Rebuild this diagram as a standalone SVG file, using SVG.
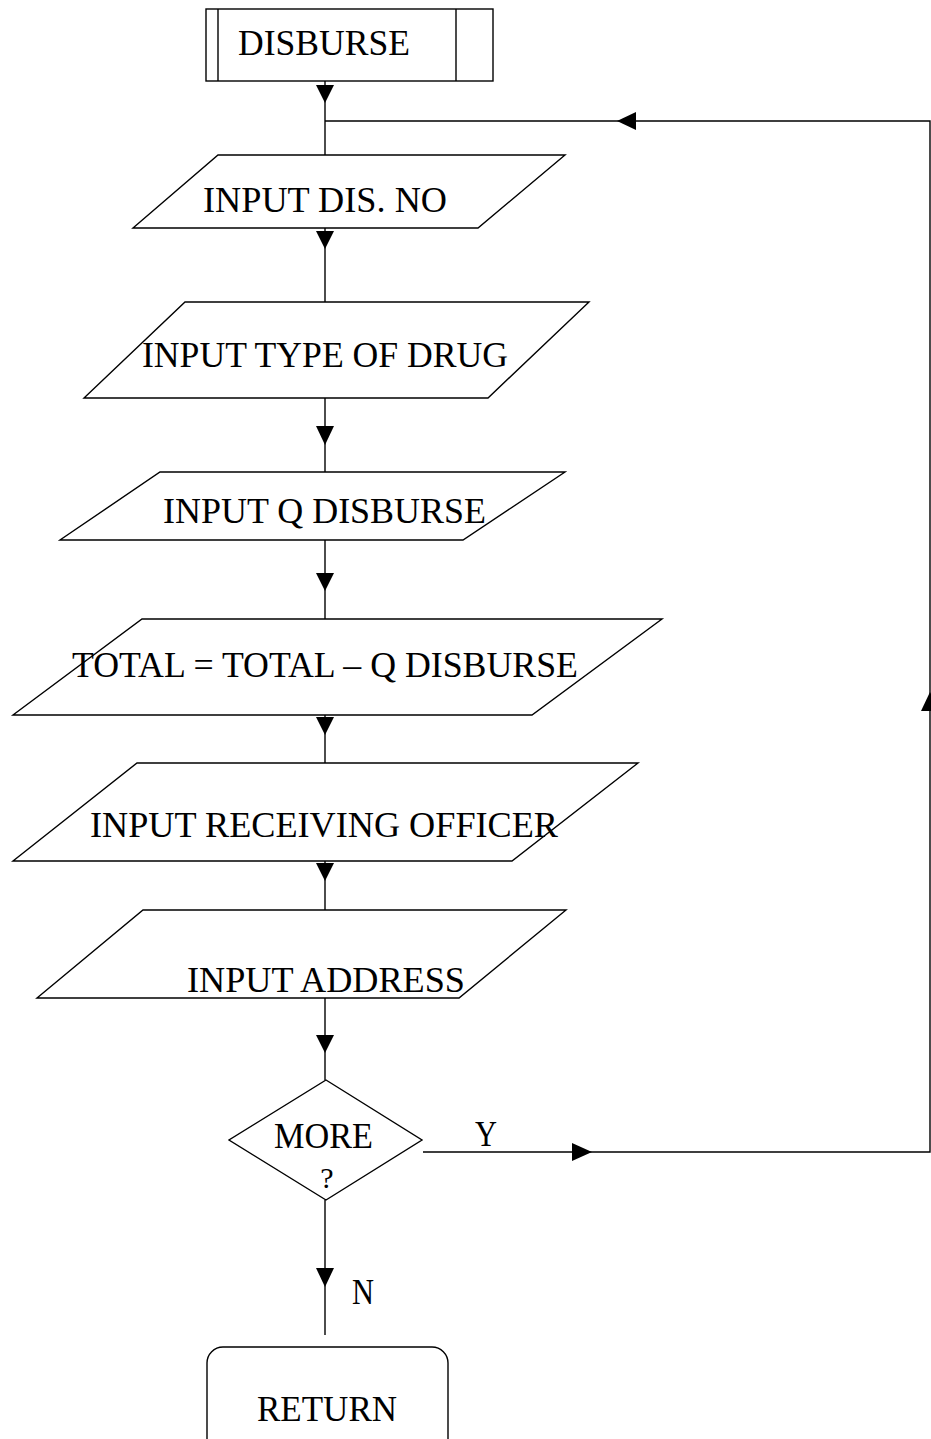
<svg xmlns="http://www.w3.org/2000/svg" width="931" height="1439" viewBox="0 0 931 1439">
<style>
.s{fill:none;stroke:#000;stroke-width:1.4}
.n{fill:#fff;stroke:#000;stroke-width:1.4}
.a{fill:#000;stroke:none}
text{font-family:"Liberation Serif","Times New Roman",serif;font-size:35px;fill:#000}
</style>
<rect width="931" height="1439" fill="#fff"/>
<g id="connectors">
<path class="s" d="M325 81V155"/>
<path class="s" d="M325 121H930V1152H423"/>
<path class="s" d="M325 228V302"/>
<path class="s" d="M325 398V472"/>
<path class="s" d="M325 540V619"/>
<path class="s" d="M325 715V763"/>
<path class="s" d="M325 861V910"/>
<path class="s" d="M325 998V1080"/>
<path class="s" d="M325 1200V1335"/>
<polygon class="a" points="316,85 334,85 325,103"/>
<polygon class="a" points="316,231 334,231 325,249"/>
<polygon class="a" points="316,426 334,426 325,445"/>
<polygon class="a" points="316,573 334,573 325,591"/>
<polygon class="a" points="316,717 334,717 325,735"/>
<polygon class="a" points="316,863 334,863 325,881"/>
<polygon class="a" points="316,1035 334,1035 325,1053"/>
<polygon class="a" points="316,1268 334,1268 325,1287"/>
<polygon class="a" points="636,112 636,130 617,121"/>
<polygon class="a" points="921,711 939,711 930,692"/>
<polygon class="a" points="572,1143 572,1161 592,1152"/>
<text x="475" y="1146" textLength="22" lengthAdjust="spacingAndGlyphs">Y</text>
<text x="352" y="1304" textLength="22" lengthAdjust="spacingAndGlyphs">N</text>
</g>
<g id="disburse">
<rect class="n" x="206" y="9" width="287" height="72"/>
<path class="s" d="M218 9V81M456 9V81"/>
<text x="238" y="55" textLength="172" lengthAdjust="spacingAndGlyphs">DISBURSE</text>
</g>
<g id="input-dis-no">
<polygon class="n" points="218,155 565,155 478,228 133,228"/>
<text x="203" y="212" textLength="244" lengthAdjust="spacingAndGlyphs">INPUT DIS. NO</text>
</g>
<g id="input-type-of-drug">
<polygon class="n" points="185,302 589,302 488,398 84,398"/>
<text x="142" y="367" textLength="366" lengthAdjust="spacingAndGlyphs">INPUT TYPE OF DRUG</text>
</g>
<g id="input-q-disburse">
<polygon class="n" points="160,472 565,472 463,540 60,540"/>
<text x="163" y="523" textLength="323" lengthAdjust="spacingAndGlyphs">INPUT Q DISBURSE</text>
</g>
<g id="total">
<polygon class="n" points="142,619 662,619 532,715 13,715"/>
<text x="72" y="677" textLength="506" lengthAdjust="spacingAndGlyphs">TOTAL = TOTAL – Q DISBURSE</text>
</g>
<g id="input-receiving-officer">
<polygon class="n" points="137,763 638,763 512,861 13,861"/>
<text x="90" y="837" textLength="468" lengthAdjust="spacingAndGlyphs">INPUT RECEIVING OFFICER</text>
</g>
<g id="input-address">
<polygon class="n" points="143,910 566,910 459,998 37,998"/>
<text x="187" y="992" textLength="278" lengthAdjust="spacingAndGlyphs">INPUT ADDRESS</text>
</g>
<g id="more">
<polygon class="n" points="326,1080 422,1140 326,1200 229,1140"/>
<text x="274" y="1148" textLength="99" lengthAdjust="spacingAndGlyphs">MORE</text>
<text x="327" y="1188" text-anchor="middle" style="font-size:30px">?</text>
</g>
<g id="return">
<rect class="n" x="207" y="1347" width="241" height="110" rx="16"/>
<text x="257" y="1421" textLength="140" lengthAdjust="spacingAndGlyphs">RETURN</text>
</g>
</svg>
